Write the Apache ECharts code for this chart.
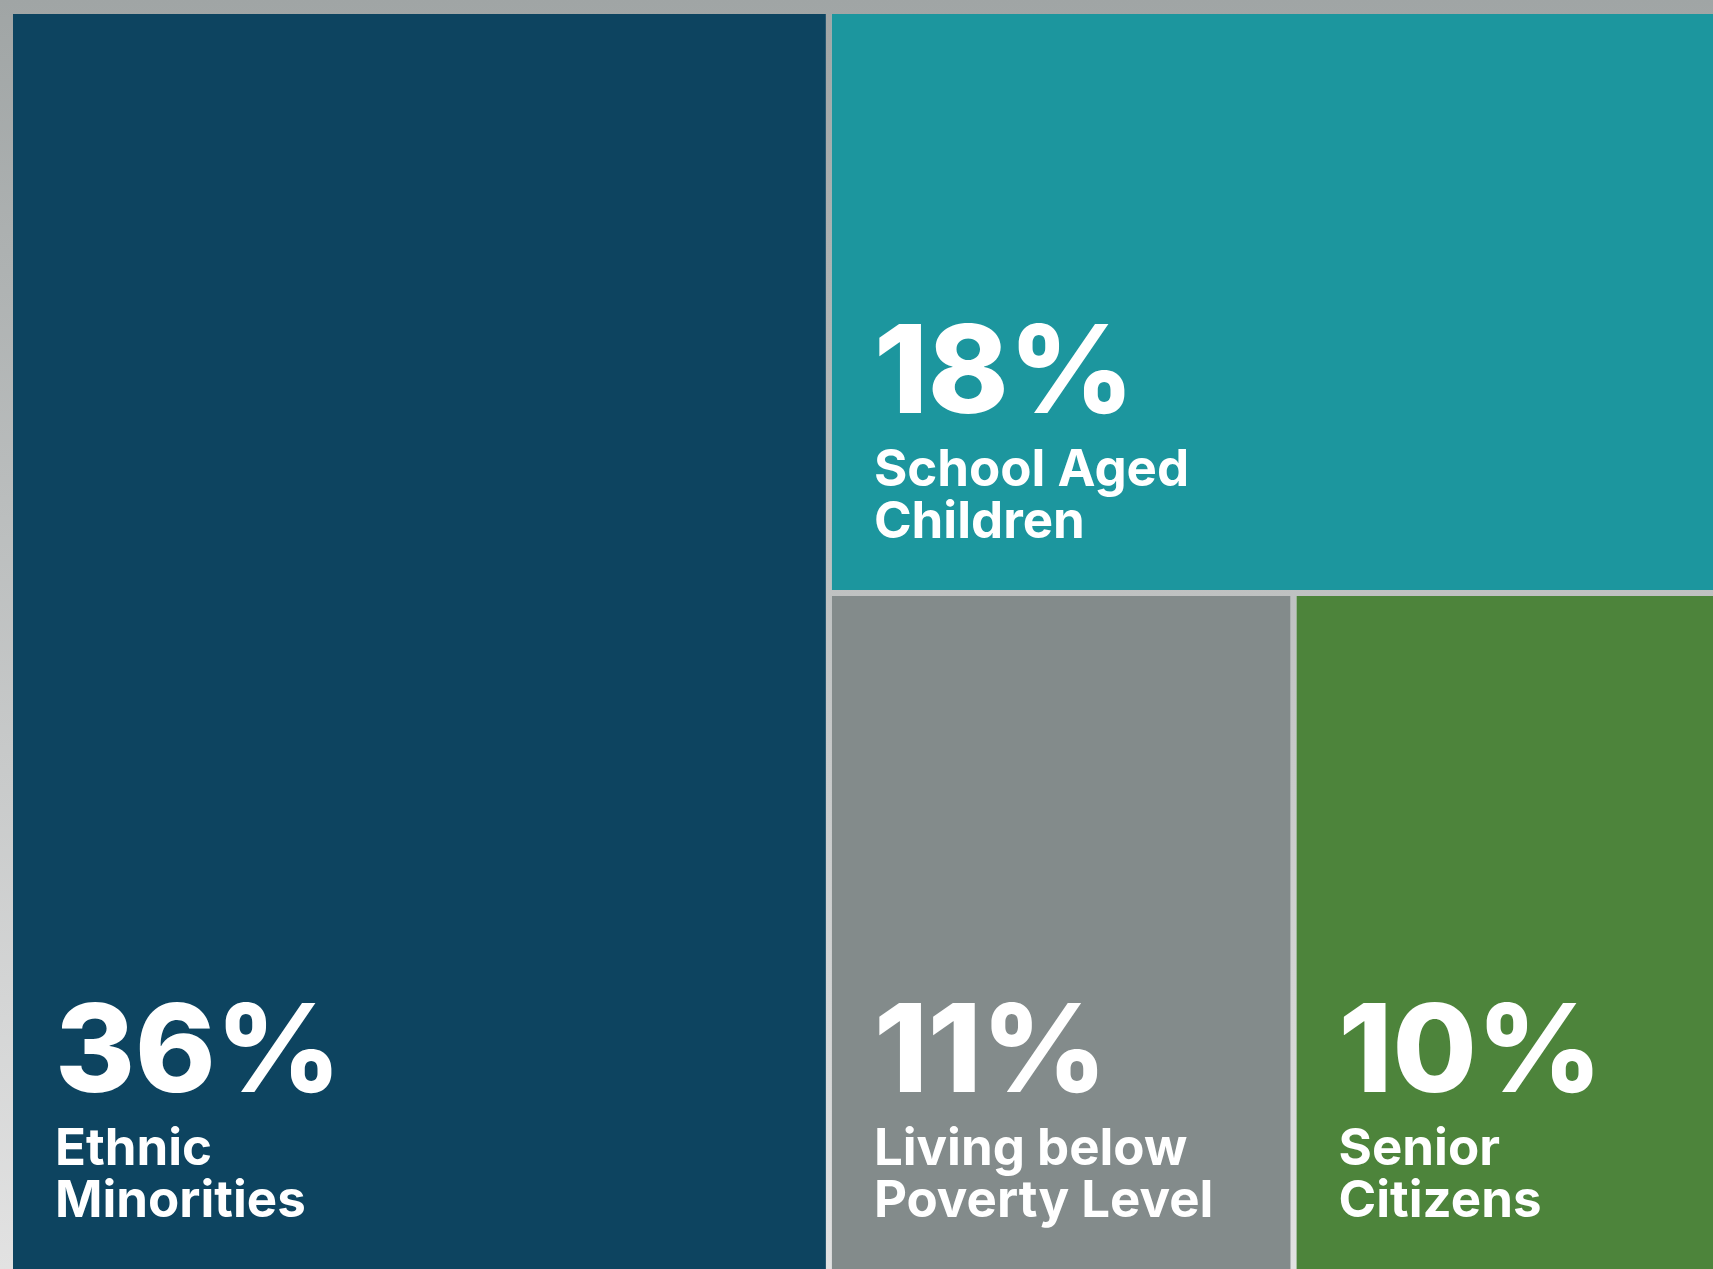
<!DOCTYPE html>
<html>
<head>
<meta charset="utf-8">
<script src="https://cdn.jsdelivr.net/npm/echarts@6/dist/echarts.min.js"></script>
<style>
  html, body { margin: 0; padding: 0; }
  #main { width: 1713px; height: 1269px; }
</style>
</head>
<body>
<div id="main"></div>
<script>
// data
var groups = ['Ethnic\nMinorities', 'School Aged\nChildren', 'Living below\nPoverty Level', 'Senior\nCitizens'];
var shares = [36, 18, 11, 10];
var colors = ['#0d4460', '#1c969e', '#838b8b', '#4d843b'];

var myChart = echarts.init(document.getElementById('main'));

var data = groups.map(function (g, i) {
  return { name: g, value: shares[i], itemStyle: { color: colors[i] } };
});

// label block: value line + two name lines, sits at bottom-left of each tile
var INSET_X = 37;
var INSET_Y = 46;
var BLOCK_H = 138 + 52 + 52;

myChart.setOption({
  backgroundColor: new echarts.graphic.LinearGradient(0, 0, 0, 1, [
    { offset: 0, color: '#a0a5a5' },
    { offset: 1, color: '#e2e2e2' }
  ]),
  series: [
    {
      type: 'treemap',
      left: 13,
      top: 14,
      width: 1700,
      height: 1255,
      roam: false,
      nodeClick: false,
      squareRatio: 1,
      breadcrumb: { show: false },
      sort: 'desc',
      levels: [
        {
          itemStyle: { borderWidth: 0, gapWidth: 6, borderColor: 'rgba(0,0,0,0)' }
        }
      ],
      label: {
        show: true,
        position: 'insideTopLeft',
        distance: 0,
        color: '#fff',
        fontFamily: 'Inter',
        formatter: function (p) {
          var lines = p.name.split('\n').map(function (s) { return '{n|' + s + '}'; });
          return '{v|' + p.value + '%}\n' + lines.join('\n');
        },
        rich: {
          v: { fontSize: 122, fontWeight: 800, lineHeight: 138, color: '#fff', fontFamily: 'Inter' },
          n: { fontSize: 51, fontWeight: 700, lineHeight: 52, color: '#fff', fontFamily: 'Inter' }
        }
      },
      labelLayout: function (p) {
        return { dx: INSET_X, dy: p.rect.height - INSET_Y - BLOCK_H };
      },
      emphasis: { disabled: true },
      data: data
    }
  ]
});
</script>
</body>
</html>
